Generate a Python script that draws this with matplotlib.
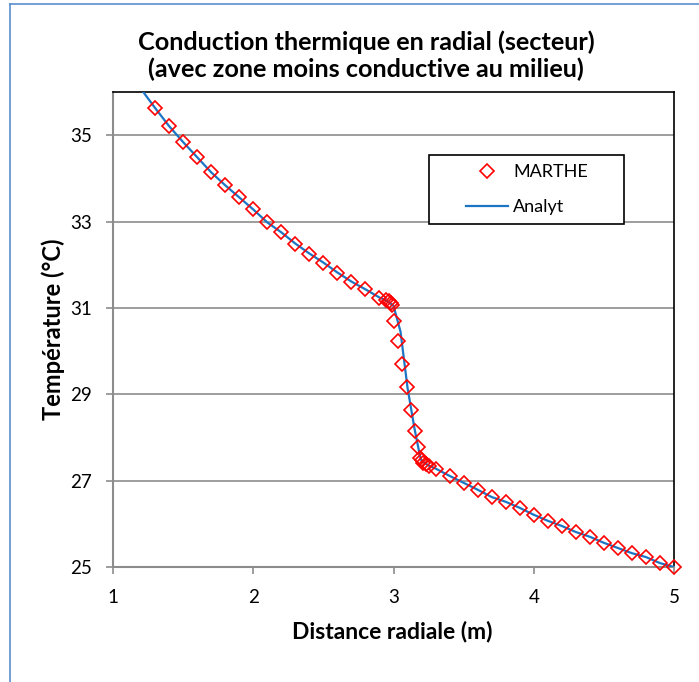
import matplotlib
matplotlib.use("Agg")
import matplotlib.pyplot as plt
from matplotlib.lines import Line2D
from matplotlib.patches import Rectangle

plt.rcParams['font.family'] = ['Lato', 'DejaVu Sans']

# MARTHE simulated points
marthe_r = [1.3, 1.4, 1.5, 1.6, 1.7, 1.8, 1.9, 2.0, 2.1, 2.2, 2.3, 2.4, 2.5, 2.6, 2.7, 2.8, 2.9,
            2.95, 2.97, 2.98, 2.99, 3.005, 3.034, 3.063, 3.098, 3.122, 3.155, 3.177, 3.19,
            3.2, 3.21, 3.23, 3.25, 3.3, 3.4, 3.5, 3.6, 3.7, 3.8, 3.9, 4.0, 4.1, 4.2, 4.3,
            4.4, 4.5, 4.6, 4.7, 4.8, 4.9, 5.0]
marthe_T = [35.63, 35.21, 34.84, 34.49, 34.14, 33.84, 33.56, 33.28, 32.98, 32.75, 32.49, 32.26,
            32.05, 31.82, 31.61, 31.43, 31.24,
            31.19, 31.15, 31.12, 31.07, 30.69, 30.24, 29.70, 29.18, 28.64, 28.16, 27.79, 27.52,
            27.47, 27.42, 27.38, 27.35, 27.28, 27.11, 26.95, 26.79, 26.62, 26.51, 26.37, 26.21,
            26.07, 25.95, 25.81, 25.70, 25.56, 25.44, 25.32, 25.23, 25.09, 25.00]

# Analytical solution
analyt_r = [1.0, 1.1, 1.2, 1.3, 1.4, 1.5, 1.6, 1.7, 1.8, 1.9, 2.0, 2.1, 2.2, 2.3, 2.4, 2.5, 2.6,
            2.7, 2.8, 2.9, 2.95, 3.0, 3.05, 3.1, 3.15, 3.19, 3.2, 3.25, 3.3, 3.4, 3.5, 3.6, 3.7,
            3.8, 3.9, 4.0, 4.1, 4.2, 4.3, 4.4, 4.5, 4.6, 4.7, 4.8, 4.9, 5.0]
analyt_T = [37.06, 36.54, 36.07, 35.63, 35.21, 34.84, 34.49, 34.14, 33.84, 33.56, 33.28, 32.98,
            32.75, 32.49, 32.26, 32.05, 31.82, 31.61, 31.43, 31.24, 31.17, 31.05, 30.45, 29.15,
            28.20, 27.55, 27.46, 27.35, 27.28, 27.11, 26.95, 26.79, 26.62, 26.51, 26.37, 26.21,
            26.07, 25.95, 25.81, 25.70, 25.56, 25.44, 25.32, 25.23, 25.09, 25.00]

x_ticks = [1, 2, 3, 4, 5]
y_ticks = [25, 27, 29, 31, 33, 35]

W, H = 699, 682
fig = plt.figure(figsize=(W/100, H/100), dpi=100)
ax = fig.add_axes([113/W, 1-567/H, (674-113)/W, (567-92)/H])

ax.plot(analyt_r, analyt_T, color='#1B75C4', lw=1.6, label='Analyt', zorder=3)
ax.plot(marthe_r, marthe_T, linestyle='none', marker='D', markersize=7.3,
        markerfacecolor='none', markeredgecolor='#FF0000', markeredgewidth=1.2,
        label='MARTHE', zorder=4, clip_on=False)

ax.set_xlim(1, 5)
ax.set_ylim(25, 36)
ax.set_xticks(x_ticks)
ax.set_yticks(y_ticks)
ax.set_xticklabels([str(v) for v in x_ticks])
ax.set_yticklabels([str(v) for v in y_ticks])
ax.tick_params(axis='both', labelsize=13.5, colors='#8C8C8C', labelcolor='black',
               direction='out', length=5, width=1.2)
ax.tick_params(axis='x', pad=11)
ax.tick_params(axis='y', pad=10)

ax.yaxis.grid(True, color='#8C8C8C', lw=1.2)
ax.set_axisbelow(True)
for s in ['left', 'bottom']:
    ax.spines[s].set_color('#8C8C8C')
    ax.spines[s].set_linewidth(1.5)
for s in ['top', 'right']:
    ax.spines[s].set_color('black')
    ax.spines[s].set_linewidth(1.2)

ax.set_xlabel('Distance radiale (m)', fontsize=16.5, fontweight='bold', va='center')
ax.xaxis.set_label_coords((392-113)/561, -(632-567)/475)
ax.set_ylabel('Température (°C)', fontsize=17, fontweight='bold', va='center')
ax.yaxis.set_label_coords((53-113)/561, (567-329)/475)

fig.text(366/W, 1-55.5/H, 'Conduction thermique en radial (secteur)\n(avec zone moins conductive au milieu)',
         ha='center', va='center', fontsize=18.2, fontweight='bold', linespacing=1.19)

h, l = ax.get_legend_handles_labels()
leg = fig.legend(h[::-1], l[::-1], loc='center', bbox_to_anchor=(527/W, 1-189.5/H),
                 bbox_transform=fig.transFigure,
                 fontsize=13, frameon=False, handlelength=2.3, borderpad=0.3,
                 labelspacing=1.05, handletextpad=0.3)
fig.add_artist(Rectangle((429/W, 1-224/H), (624-429)/W, (224-155)/H,
                         transform=fig.transFigure, fill=True, facecolor='white',
                         edgecolor='black', lw=1.2, zorder=5))
leg.set_zorder(6)

# figure border
fig.add_artist(Line2D([10/W, 10/W], [0, 1-4/H], transform=fig.transFigure,
                      color='#5B8FCF', lw=1.2))
fig.add_artist(Line2D([10/W, 1], [1-4/H, 1-4/H], transform=fig.transFigure,
                      color='#5B8FCF', lw=1.2))

fig.savefig('out.png', dpi=100)
